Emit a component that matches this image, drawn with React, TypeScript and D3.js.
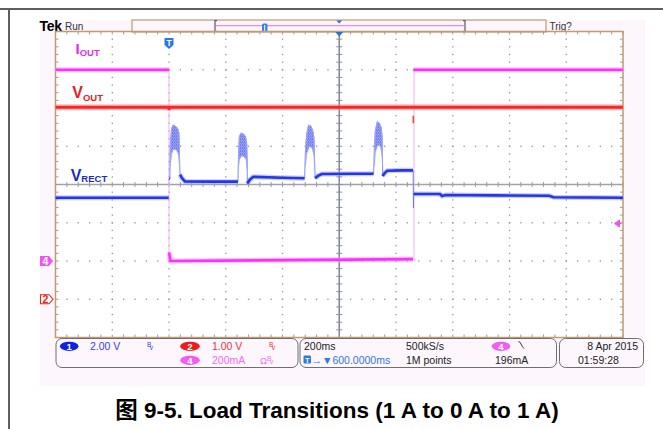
import React from 'react';
import * as d3 from 'd3';

// ---------- data ----------
// time in ms relative to trigger, 200 ms/div, horizontal delay 600 ms
const timeDomain: [number, number] = [-400, 1600];
const gridTimes = [-400, -200, 0, 200, 400, 600, 800, 1000, 1200, 1400, 1600];
const gridDivs = [4, 3, 2, 1, 0, -1, -2, -3, -4];

// channel settings (units/div, ground offset in div)
const ch1Scale = 2.0, ch1Pos = -3; // VRECT
const ch2Scale = 1.0, ch2Pos = -3; // VOUT
const ch4Scale = 0.2, ch4Pos = -2; // IOUT

// IOUT (A)
const ioutSegments: [number, number][][] = [
  [[-400, 1.0], [0, 1.0]],
  [[0.3, 0.045], [2, 0.03], [5, 0.0], [860, 0.01]],
  [[861, 1.0], [1600, 1.0]],
];
const ioutEdgeTimes = [0, 860];

// VOUT (V)
const voutTrace: [number, number][] = [
  [-400, 5.02], [-1, 5.02], [0, 4.95], [1.5, 5.02], [1600, 5.02],
];
const voutSpike: [number, number][] = [[861, 4.8], [861, 4.6]];

// VRECT (V) flat parts
const vrectSegments: [number, number][][] = [
  [[-400, 5.31], [-1, 5.31]],
  [[0.5, 6.3], [3, 6.28]],
  [[38.8, 6.52], [45, 6.35], [56, 6.16], [150, 6.15], [243, 6.15]],
  [[276, 6.05], [285, 6.25], [297, 6.4], [400, 6.35], [478, 6.33]],
  [[515, 6.33], [525, 6.45], [538, 6.55], [650, 6.56], [721, 6.56]],
  [[753, 6.44], [760, 6.6], [769, 6.72], [820, 6.74], [860, 6.74]],
  [[862, 5.5], [955, 5.5], [962, 5.4], [975, 5.45], [1150, 5.43], [1340, 5.41], [1355, 5.33], [1600, 5.31]],
];
// VRECT pulses: upper envelope (with base points at ends) and lower envelope
const pulseTops: [number, number][][] = [
  [[3, 6.28], [4.5, 8.0], [9, 8.9], [14, 9.11], [22, 9.05], [30, 8.95], [35, 8.7], [37, 7.5], [38.8, 6.52]],
  [[243, 6.15], [245, 7.6], [248, 8.5], [253, 8.68], [262, 8.65], [270, 8.5], [274, 8.1], [275.5, 7.2], [276, 6.05]],
  [[478, 6.33], [481, 7.8], [485, 8.6], [492, 9.11], [500, 9.05], [507, 8.8], [511, 8.4], [513, 7.3], [515, 6.33]],
  [[721, 6.56], [724, 7.9], [727, 8.8], [734, 9.28], [742, 9.2], [748, 8.95], [751, 8.5], [752.5, 7.4], [753, 6.44]],
];
const pulseBottoms: [number, number][][] = [
  [[4.5, 7.0], [9, 7.6], [16, 7.85], [26, 7.8], [33, 7.6], [37, 7.0]],
  [[245, 6.9], [248, 7.3], [256, 7.5], [265, 7.45], [272, 7.3], [275.5, 6.8]],
  [[481, 6.95], [485, 7.6], [495, 8.0], [505, 7.9], [511, 7.5], [513, 6.9]],
  [[724, 7.0], [727, 7.7], [736, 8.07], [745, 8.0], [750, 7.6], [752.5, 7.0]],
];
const vrectDropSpike: [number, number][] = [[860.5, 6.74], [861.5, 4.77], [862, 5.5]];

const triggerLevel = 0.196; // A on ch4

// ---------- layout ----------
const W = 663, H = 429;
const GL = 55.5, GR = 623, GT = 31.5, GB = 337.5;
const FONT = 'Liberation Sans, Arial, sans-serif';
const BORDER = '#bf9a72';

export default function App() {
  const x = d3.scaleLinear().domain(timeDomain).range([GL, GR]);
  const yDiv = d3.scaleLinear().domain([4, -4]).range([GT, GB]);
  const y1 = (v: number) => yDiv(v / ch1Scale + ch1Pos);
  const y2 = (v: number) => yDiv(v / ch2Scale + ch2Pos);
  const y4 = (v: number) => yDiv(v / ch4Scale + ch4Pos);
  const mk = (fy: (v: number) => number) =>
    d3.line<[number, number]>().x(d => x(d[0])).y(d => fy(d[1]));
  const l1 = mk(y1), l2 = mk(y2), l4 = mk(y4);
  const l1c = mk(y1).curve(d3.curveLinearClosed);

  const divW = (GR - GL) / 10, divH = (GB - GT) / 8;
  const minorX = d3.range(0, 51).map(i => GL + i * divW / 5);
  const minorY = d3.range(0, 41).map(i => GT + i * divH / 5);

  const dots: JSX.Element[] = [];
  gridTimes.slice(1, -1).forEach((t, i) => {
    if (t === 600) return;
    minorY.slice(1, -1).forEach((yy, j) =>
      dots.push(<rect key={`v${i}-${j}`} x={x(t) - 0.6} y={yy - 0.6} width={1.3} height={1.3} fill="#8e8ea6" />));
  });
  gridDivs.slice(1, -1).forEach((dv, i) => {
    if (dv === 0) return;
    minorX.slice(1, -1).forEach((xx, j) =>
      dots.push(<rect key={`h${i}-${j}`} x={xx - 0.6} y={yDiv(dv) - 0.6} width={1.3} height={1.3} fill="#8e8ea6" />));
  });

  const cx = x(600), cy = yDiv(0);

  return (
    <svg width={W} height={H} style={{ display: 'block', position: 'absolute', left: 0, top: 0 }} fontFamily={FONT}>
      <defs>
        <pattern id="noise" width={2} height={3} patternUnits="userSpaceOnUse">
          <rect x={0} y={0} width={2} height={3} fill="#9aa3f6" />
          <rect x={0} y={0} width={1} height={2} fill="#6f7cee" />
          <rect x={1} y={1.5} width={1} height={1.5} fill="#7d89f0" />
        </pattern>
      </defs>
      <rect x={0} y={0} width={W} height={H} fill="#ffffff" />
      {/* page frame */}
      <line x1={0} x2={W} y1={9} y2={9} stroke="#5e5e5e" strokeWidth={2} />
      <line x1={9} x2={9} y1={9} y2={H} stroke="#5e5e5e" strokeWidth={2} />
      {/* scope screen bg */}
      <rect x={40} y={20} width={605} height={366} fill="#fdf6fd" />
      <rect x={GL} y={GT} width={GR - GL} height={GB - GT} fill="#ffffff" />

      {/* header */}
      <text x={39.5} y={30.5} fontSize={14} fontWeight="bold" fill="#000" letterSpacing={-0.3}>Tek</text>
      <text x={65} y={30} fontSize={10} fill="#333">Run</text>
      <rect x={132} y={20} width={414} height={12} fill="#fdf6fd" stroke={BORDER} strokeWidth={1.2} />
      <line x1={216} x2={464} y1={25.7} y2={25.7} stroke="#ee88ee" strokeWidth={1.2} />
      <path d="M217,20.6 h-2 v10.8 h2 M463,20.6 h2 v10.8 h-2" fill="none" stroke="#55596a" strokeWidth={1.2} />
      <rect x={262} y={23.5} width={5.5} height={8} rx={1.5} fill="#3a7ee8" />
      <path d="M264.7,25 v6" stroke="#fff" strokeWidth={1} />
      <path d={`M${cx - 3},20.5 h6 l-3,3 z`} fill="#2a6ee0" />
      <text x={549.5} y={30} fontSize={10} fill="#333">Trig?</text>

      {/* graticule */}
      {dots}
      <line x1={GL} x2={GR} y1={cy} y2={cy} stroke="#a2a2ae" strokeWidth={1.5} />
      <line x1={cx} x2={cx} y1={GT} y2={GB} stroke="#7f8599" strokeWidth={1.5} />
      {minorX.map((xx, i) => (
        <g key={`tx${i}`}>
          <line x1={xx} x2={xx} y1={cy - 2.5} y2={cy + 2.5} stroke="#9a9aa8" strokeWidth={1} />
          <line x1={xx} x2={xx} y1={GT} y2={GT + 3} stroke="#9a9aa8" strokeWidth={1} />
          <line x1={xx} x2={xx} y1={GB - 3} y2={GB} stroke="#9a9aa8" strokeWidth={1} />
        </g>
      ))}
      {minorY.map((yy, i) => (
        <g key={`ty${i}`}>
          <line x1={cx - 3} x2={cx + 3} y1={yy} y2={yy} stroke="#8a8fa2" strokeWidth={1} />
          <line x1={GL} x2={GL + 3} y1={yy} y2={yy} stroke="#9a9aa8" strokeWidth={1} />
          <line x1={GR - 3} x2={GR} y1={yy} y2={yy} stroke="#9a9aa8" strokeWidth={1} />
        </g>
      ))}
      <rect x={GL} y={GT} width={GR - GL} height={GB - GT} fill="none" stroke={BORDER} strokeWidth={1.5} />

      {/* IOUT edges */}
      {ioutEdgeTimes.map((t, i) => (
        <line key={`ie${i}`} x1={x(t) + (i ? 1 : 0)} x2={x(t) + (i ? 1 : 0)} y1={y4(1)} y2={y4(0)} stroke="#f6b0f6" strokeWidth={1} />
      ))}

      {/* VOUT */}
      <path d={l2(voutTrace) || ''} fill="none" stroke="#ff8c8c" strokeOpacity={0.55} strokeWidth={6} />
      <path d={l2(voutTrace) || ''} fill="none" stroke="#ff2424" strokeWidth={2.8} />
      <path d={l2(voutSpike) || ''} fill="none" stroke="#ff3a3a" strokeWidth={1.5} />

      {/* IOUT */}
      {ioutSegments.map((s, i) => (
        <g key={`io${i}`}>
          <path d={l4(s) || ''} fill="none" stroke="#ff9cff" strokeOpacity={0.6} strokeWidth={5} />
          <path d={l4(s) || ''} fill="none" stroke="#ff30ff" strokeWidth={2.6} />
        </g>
      ))}

      {/* VRECT */}
      {pulseTops.map((p, i) => (
        <g key={`pu${i}`}>
          <path d={l1(p) || ''} fill="none" stroke="#7f8cf4" strokeWidth={1} />
          <path d={l1c([...p.slice(1, -1), ...pulseBottoms[i].slice().reverse()]) || ''} fill="url(#noise)" stroke="#a3abf7" strokeWidth={0.8} />
        </g>
      ))}
      <path d={l1(vrectDropSpike) || ''} fill="none" stroke="#6f7cf0" strokeWidth={1} />
      {vrectSegments.map((s, i) => (
        <g key={`vr${i}`}>
          <path d={l1(s) || ''} fill="none" stroke="#8f9aff" strokeOpacity={0.5} strokeWidth={5} />
          <path d={l1(s) || ''} fill="none" stroke="#2436e6" strokeWidth={2.6} />
        </g>
      ))}

      {/* trace labels */}
      <text x={75.5} y={54} fontSize={15} fontWeight="bold" fill="#e22ee2">I<tspan fontSize={9.5} dy={1.6}>OUT</tspan></text>
      <text x={72.3} y={98.3} fontSize={16} fontWeight="bold" fill="#e31e1e">V<tspan fontSize={9.5} dy={2.2}>OUT</tspan></text>
      <text x={70.7} y={180.5} fontSize={16} fontWeight="bold" fill="#1e28c8">V<tspan fontSize={9.5} dy={1.5}>RECT</tspan></text>

      {/* markers */}
      <path d={`M${x(0) - 4.5},38 h9 v7 l-4.5,4 l-4.5,-4 z`} fill="#2a78e6" />
      <text x={x(0)} y={46} fontSize={8.5} fontWeight="bold" fill="#fff" textAnchor="middle">T</text>
      <path d={`M${cx - 4},32 h8 l-4,4.5 z`} fill="#2a6ee0" />
      <path d={`M40,${y4(0) - 5} h9 l4,5 l-4,5 h-9 z`} fill="#f252f2" />
      <text x={45.5} y={y4(0) + 3.8} fontSize={10.5} fontWeight="bold" fill="#fff" textAnchor="middle">4</text>
      <path d={`M40.5,${y2(0) - 4.5} h8.5 l4,4.5 l-4,4.5 h-8.5 z`} fill="#fff" stroke="#ee2020" strokeWidth={1.1} />
      <text x={45.5} y={y2(0) + 3.8} fontSize={10.5} fontWeight="bold" fill="#ee2020" textAnchor="middle">2</text>
      <path d={`M614.5,${y4(triggerLevel)} l5,-3.5 v7 z M618,${y4(triggerLevel)} h3.5`} fill="#f050f0" stroke="#f050f0" strokeWidth={1} />

      {/* info bar */}
      <rect x={56} y={338.5} width={242} height={29} rx={6} fill="#fdf6fd" stroke="#6e6e6e" strokeWidth={1} />
      <rect x={300} y={338.5} width={256.5} height={29} rx={6} fill="#fdf6fd" stroke="#6e6e6e" strokeWidth={1} />
      <rect x={559.5} y={338.5} width={84} height={29} rx={6} fill="#fdf6fd" stroke="#6e6e6e" strokeWidth={1} />

      <ellipse cx={69.2} cy={346.3} rx={9.3} ry={4.6} fill="#0c22e6" />
      <text x={69.2} y={349.6} fontSize={9.5} fontWeight="bold" fill="#fff" textAnchor="middle">1</text>
      <text x={90} y={350} fontSize={10.5} fill="#3a3ae6">2.00 V</text>
      <text x={147} y={346.5} fontSize={6.5} fill="#3a3ae6">B<tspan dx={-1.5} dy={3.2}>v</tspan></text>
      <ellipse cx={190} cy={346.3} rx={9.8} ry={4.6} fill="#ee1c1c" />
      <text x={190} y={349.6} fontSize={9.5} fontWeight="bold" fill="#fff" textAnchor="middle">2</text>
      <text x={212} y={350} fontSize={10.5} fill="#f03232">1.00 V</text>
      <text x={269} y={346.5} fontSize={6.5} fill="#f03232">B<tspan dx={-1.5} dy={3.2}>v</tspan></text>
      <ellipse cx={190} cy={360.3} rx={9.8} ry={4.6} fill="#f25cf2" />
      <text x={190} y={363.6} fontSize={9.5} fontWeight="bold" fill="#fff" textAnchor="middle">4</text>
      <text x={212} y={364} fontSize={10.5} fill="#f36ef3">200mA</text>
      <text x={260} y={364} fontSize={9.5} fill="#f36ef3">Ω<tspan fontSize={6.5} dy={-3.5}>B</tspan><tspan fontSize={6.5} dx={-1.5} dy={3.2}>v</tspan></text>

      <text x={304} y={350} fontSize={10.5} fill="#222">200ms</text>
      <rect x={303.5} y={355.5} width={7.5} height={8} rx={1} fill="#2a78e6" />
      <text x={307.3} y={362.5} fontSize={7.5} fontWeight="bold" fill="#fff" textAnchor="middle">T</text>
      <text x={311.5} y={364} fontSize={10.5} fill="#3074ee">→▼600.0000ms</text>
      <text x={406} y={350} fontSize={10.5} fill="#222">500kS/s</text>
      <text x={406} y={364} fontSize={10.5} fill="#222">1M points</text>
      <ellipse cx={501} cy={346.3} rx={9.3} ry={4.6} fill="#f25cf2" />
      <text x={501} y={349.6} fontSize={9.5} fontWeight="bold" fill="#fff" textAnchor="middle">4</text>
      <path d="M518.5,341.5 q1.5,0 2.5,2.5 q1,2.5 3,4.5" fill="none" stroke="#333" strokeWidth={1} />
      <text x={495} y={364} fontSize={10.5} fill="#222">196mA</text>

      <text x={638} y={350} fontSize={10.5} fill="#222" textAnchor="end">8 Apr  2015</text>
      <text x={578} y={364} fontSize={10.5} fill="#222">01:59:28</text>

      {/* caption */}
      <text x={337} y={418} fontSize={22.5} fontWeight="bold" fill="#000" textAnchor="middle" fontFamily="Liberation Sans, Arial, 'Noto Sans CJK SC', sans-serif">图 9-5. Load Transitions (1 A to 0 A to 1 A)</text>
    </svg>
  );
}
